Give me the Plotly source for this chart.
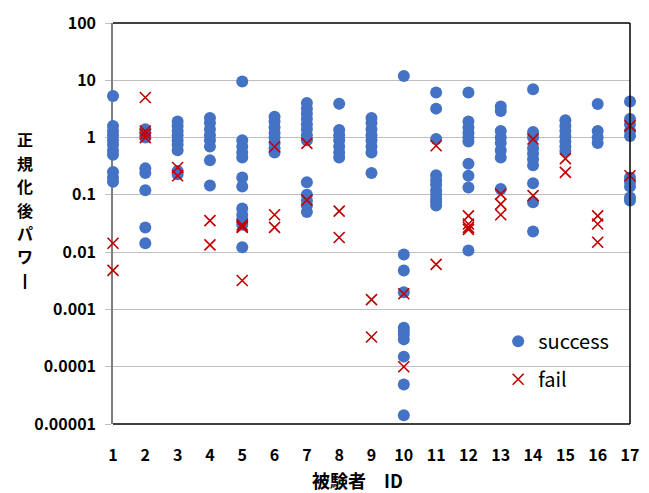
import plotly.graph_objects as go

subject_ids = list(range(1, 18))

success_values = [
    [5.3, 1.6, 1.3, 1.1, 0.9, 0.75, 0.6, 0.5, 0.25, 0.2, 0.17],
    [1.4, 1.2, 1.0, 0.29, 0.24, 0.12, 0.027, 0.0143],
    [1.9, 1.6, 1.3, 1.1, 0.9, 0.75, 0.6, 0.26, 0.23],
    [2.2, 1.8, 1.4, 1.1, 0.9, 0.7, 0.40, 0.145],
    [9.5, 0.9, 0.7, 0.55, 0.45, 0.2, 0.14, 0.058, 0.045, 0.037, 0.03, 0.0122],
    [2.3, 1.9, 1.5, 1.2, 1.0, 0.8, 0.65, 0.55],
    [4.0, 3.2, 2.6, 2.1, 1.7, 1.4, 1.1, 0.9, 0.166, 0.1, 0.08, 0.065, 0.05],
    [3.9, 1.35, 1.1, 0.9, 0.7, 0.55, 0.45],
    [2.2, 1.8, 1.4, 1.1, 0.9, 0.7, 0.55, 0.24],
    [11.9, 0.0091, 0.0048, 0.002, 0.00048, 0.00042, 0.00036, 0.0003, 0.00015, 0.000049, 0.0000142],
    [6.1, 3.2, 0.94, 0.22, 0.18, 0.15, 0.12, 0.1, 0.085, 0.075, 0.065],
    [6.1, 1.9, 1.5, 1.2, 1.0, 0.85, 0.35, 0.216, 0.135, 0.0107],
    [3.5, 2.9, 1.3, 1.0, 0.8, 0.6, 0.45, 0.126],
    [6.98, 1.25, 1.0, 0.65, 0.52, 0.42, 0.33, 0.159, 0.074, 0.023],
    [2.0, 1.6, 1.3, 1.05, 0.85, 0.7, 0.58],
    [3.84, 1.3, 1.0, 0.8],
    [4.25, 2.1, 1.7, 1.3, 1.07, 0.2, 0.17, 0.14, 0.09, 0.08],
]

fail_values = [
    [0.0143, 0.0048],
    [5.0, 1.3, 1.15, 1.0],
    [0.3, 0.216],
    [0.0355, 0.0134],
    [0.03, 0.028, 0.027, 0.0032],
    [0.69, 0.045, 0.027],
    [0.79, 0.081],
    [0.052, 0.018],
    [0.00148, 0.00033],
    [0.00188, 0.0001],
    [0.72, 0.0061],
    [0.043, 0.031, 0.027, 0.025],
    [0.103, 0.069, 0.045],
    [0.94, 0.097],
    [0.43, 0.247],
    [0.043, 0.031, 0.0149],
    [1.6, 0.216],
]

y_tick_vals = [0.00001, 0.0001, 0.001, 0.01, 0.1, 1, 10, 100]
y_tick_text = ["0.00001", "0.0001", "0.001", "0.01", "0.1", "1", "10", "100"]
series_names = ["success", "fail"]
x_title = "被験者　ID"
y_title = "正規化後パワ丨"

sx, sy = [], []
for sid, vals in zip(subject_ids, success_values):
    sx += [sid] * len(vals)
    sy += vals
fx, fy = [], []
for sid, vals in zip(subject_ids, fail_values):
    fx += [sid] * len(vals)
    fy += vals

FONT = "Noto Sans CJK JP"
BLUE = "#4472C4"
RED = "#C00000"

fig = go.Figure()
fig.add_trace(go.Scatter(
    x=sx, y=sy, mode="markers", name=series_names[0], legendgroup="a",
    marker=dict(symbol="circle", size=12, color=BLUE, line=dict(width=0)),
    cliponaxis=False,
))
fig.add_trace(go.Scatter(
    x=fx, y=fy, mode="markers", name=series_names[1], legendgroup="b",
    marker=dict(symbol="x-thin", size=11, color=RED, line=dict(width=1.6, color=RED)),
    cliponaxis=False,
))

# frame: top, right, bottom in black
fig.add_shape(type="line", xref="paper", yref="paper", x0=0, x1=1, y0=1, y1=1,
              line=dict(color="black", width=1.5), layer="above")
fig.add_shape(type="line", xref="paper", yref="paper", x0=1, x1=1, y0=0, y1=1,
              line=dict(color="black", width=1.5), layer="above")
fig.add_shape(type="line", xref="paper", yref="paper", x0=0, x1=1, y0=0, y1=0,
              line=dict(color="black", width=1.5), layer="above")

# vertical (stacked) y-axis title, one character per annotation
plot_top, plot_h = 22, 402
first_center, step = 138.5, 23.5
for i, ch in enumerate(y_title):
    yc = first_center + step * i
    fig.add_annotation(text=ch, xref="paper", yref="paper", x=-0.170,
                       y=(plot_top + plot_h - yc) / plot_h,
                       xanchor="center", yanchor="middle", showarrow=False,
                       font=dict(family=FONT, size=16, color="black", weight="bold"))
fig.add_annotation(text=x_title, xref="paper", yref="paper", x=0.472, y=-0.14,
                   xanchor="center", yanchor="middle", showarrow=False,
                   font=dict(family=FONT, size=18, color="black", weight="bold"))

fig.update_layout(
    width=649, height=493,
    margin=dict(l=113, r=10, t=22, b=69),
    paper_bgcolor="white", plot_bgcolor="white",
    showlegend=True,
    legend=dict(x=0.745, y=0.255, xanchor="left", yanchor="top",
                bgcolor="rgba(0,0,0,0)", traceorder="grouped", tracegroupgap=9,
                font=dict(family=FONT, size=20, color="black"),
                itemsizing="trace"),
    xaxis=dict(
        range=[1, 17], tickvals=subject_ids, ticktext=[str(i) for i in subject_ids],
        showgrid=False, zeroline=False, showline=False, ticks="",
        ticklabelstandoff=20,
        tickfont=dict(family=FONT, size=16, color="black", weight="bold"),
    ),
    yaxis=dict(
        type="log", range=[-5, 2], tickvals=y_tick_vals, ticktext=y_tick_text,
        showgrid=True, gridcolor="#BFBFBF", gridwidth=1,
        showline=True, linecolor="#7F7F7F", linewidth=1.5,
        ticks="outside", ticklen=6, tickcolor="#BFBFBF",
        ticklabelstandoff=6, layer="below traces", zeroline=False,
        tickfont=dict(family=FONT, size=16, color="black", weight="bold"),
    ),
)

fig.write_html("out.html")
